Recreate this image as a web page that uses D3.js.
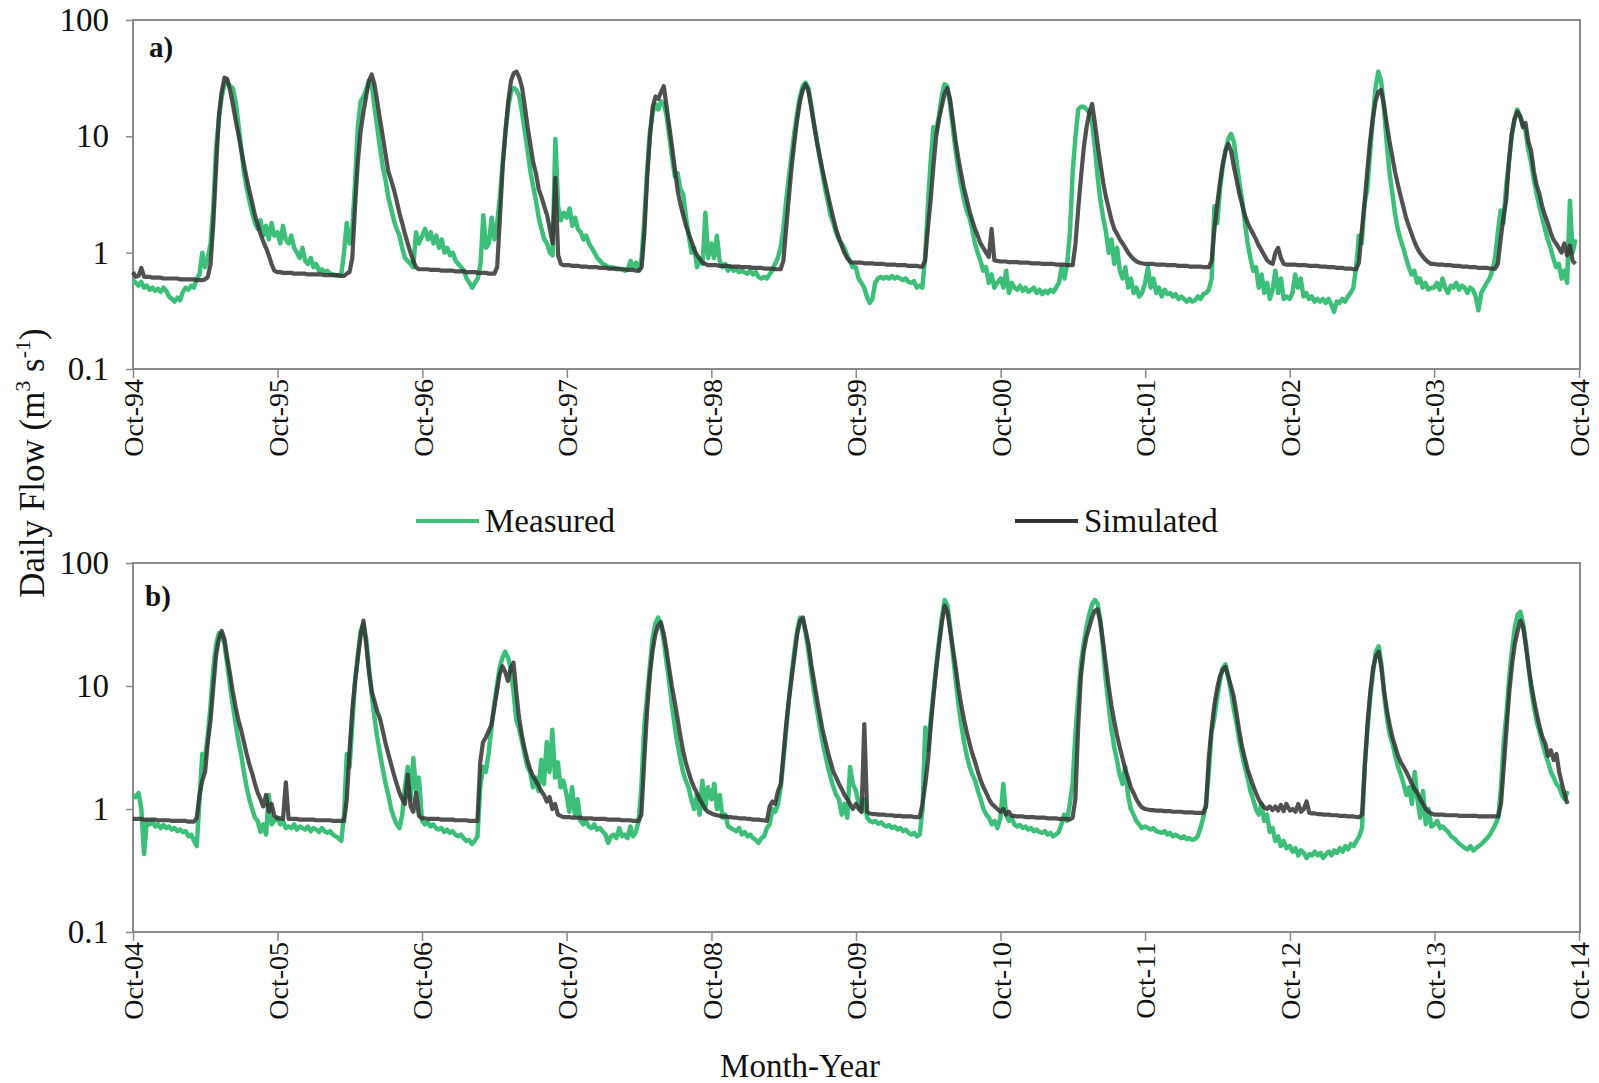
<!DOCTYPE html>
<html>
<head>
<meta charset="utf-8">
<script src="https://cdn.jsdelivr.net/npm/d3@7.9.0/dist/d3.min.js"></script>
<style>
  body { margin: 0; background: #fff; }
  svg { display: block; font-family: "Liberation Serif", "Times New Roman", serif; }
</style>
</head>
<body>
<svg id="chart" width="1599" height="1083"></svg>
<script>
// weekly values, one row per water year (row starts Oct-1, step 7 days)
const measuredA = [
  [0.58,0.55,0.52,0.56,0.5,0.52,0.48,0.5,0.47,0.49,0.46,0.5,0.47,0.42,0.4,0.38,0.41,0.39,0.46,0.5,0.48,0.52,0.5,0.6,0.65,1.0,0.75,
   0.9,1.2,2.5,8,14,22,28,30,27,26,20,13,8,5,3.6,2.8,2.2,1.8,1.6,1.9,1.4,1.7,1.3,1.8,1.4],
  [1.5,1.2,1.7,1.3,1.2,1.4,1.1,1.0,0.9,1.1,0.85,0.8,0.9,0.75,0.8,0.7,0.72,0.68,0.7,0.66,0.65,0.64,0.63,0.65,1.0,1.8,1.2,
   1.6,4,12,20,22,25,30,28,18,12,8,5.5,4.2,3.0,2.4,1.9,1.6,1.4,1.1,0.9,0.85,0.8,0.75,1.5,1.2],
  [1.4,1.6,1.3,1.5,1.2,1.4,1.1,1.3,1.0,1.1,0.95,1.0,0.85,0.8,0.75,0.7,0.6,0.55,0.5,0.55,0.6,0.8,2.1,1.1,1.2,2.0,1.3,
   1.8,3,6,11,18,24,26,25,22,16,11,7.5,5,3.7,2.8,2.0,1.6,1.3,1.2,1.0,0.95,9.5,2.5,1.9,2.2],
  [2.0,2.4,1.7,2.0,1.6,1.5,1.3,1.4,1.2,1.1,1.0,0.9,0.85,0.8,0.78,0.75,0.75,0.74,0.72,0.73,0.72,0.7,0.72,0.85,0.75,0.82,0.7,
   0.9,2,5,11,16,19,17,20,19,15,10,6.5,4.5,4.8,3.5,3.2,2.0,1.4,1.0,1.1,0.75,0.9,0.8,2.2,0.9],
  [1.2,0.9,1.4,0.85,0.75,0.8,0.7,0.75,0.7,0.72,0.68,0.7,0.68,0.66,0.7,0.65,0.68,0.62,0.6,0.62,0.6,0.65,0.7,0.8,0.9,1.1,
   1.6,2.8,4.5,7,11,16,22,27,29,26,19,13,9.5,6.8,5,3.6,2.8,2.1,1.8,1.5,1.3,1.2,1.1,0.95,0.85,0.75],
  [0.75,0.6,0.55,0.5,0.42,0.37,0.4,0.55,0.6,0.62,0.6,0.62,0.6,0.63,0.6,0.62,0.6,0.58,0.6,0.56,0.55,0.57,0.5,0.52,0.5,
   0.9,2.5,6,12,11,15,22,28,27,19,12,7.5,5.2,3.8,2.9,2.3,2.0,1.6,1.2,1.0,0.85,0.7,0.75,0.55,0.65,0.5,0.55],
  [0.6,0.5,0.7,0.45,0.55,0.5,0.48,0.52,0.47,0.5,0.46,0.48,0.5,0.45,0.48,0.44,0.47,0.45,0.48,0.46,0.5,0.55,0.75,0.6,0.8,1.5,
   5,10,17,18,18,17,16,13,8,4.5,2.8,2.0,1.5,1.0,1.3,0.8,1.1,0.7,0.6,0.75,0.5,0.6,0.45,0.5,0.42,0.45],
  [0.55,0.75,0.5,0.6,0.45,0.5,0.42,0.48,0.44,0.45,0.42,0.44,0.4,0.42,0.4,0.38,0.4,0.38,0.39,0.42,0.4,0.44,0.45,0.48,0.6,
   2.5,1.8,3.5,5.5,7.5,9.5,10.5,9,6,4,2.8,1.8,1.2,0.9,0.7,0.75,0.5,0.65,0.45,0.55,0.4,0.48,0.7,0.45,0.6,0.4,0.42],
  [0.4,0.45,0.65,0.5,0.6,0.42,0.45,0.4,0.42,0.38,0.4,0.38,0.4,0.37,0.4,0.36,0.31,0.38,0.37,0.4,0.38,0.42,0.45,0.5,0.75,
   1.4,1.2,2.6,3.5,7,14,26,36,30,18,9,5,3.3,2.2,1.6,1.3,1.1,0.9,0.75,0.65,0.7,0.55,0.6,0.5,0.55,0.48,0.5],
  [0.5,0.55,0.48,0.6,0.5,0.45,0.52,0.5,0.55,0.48,0.52,0.5,0.45,0.5,0.48,0.42,0.32,0.45,0.5,0.55,0.6,0.7,0.9,
   1.5,2.3,1.8,3.7,6,10,14,17,15,13,11,7.6,6,4.2,3.2,2.5,2.0,1.6,1.3,1.1,0.9,0.75,0.8,0.6,0.7,0.55,2.8,1.0,1.3]
];

const simulatedA = [
  [0.68,0.62,0.63,0.74,0.62,0.62,0.62,0.61,0.61,0.61,0.61,0.6,0.6,0.6,0.6,0.6,0.6,0.59,0.59,0.59,0.59,0.59,0.59,0.58,0.58,0.58,0.59,
   0.62,0.8,1.8,5.5,15,24,32,31,25,19,14,10.5,7.8,5.8,4.4,3.4,2.7,2.1,1.75,1.45,1.25,1.1,0.95,0.8,0.7],
  [0.68,0.68,0.67,0.67,0.67,0.67,0.66,0.66,0.66,0.66,0.66,0.65,0.65,0.65,0.65,0.65,0.65,0.64,0.64,0.64,0.64,0.64,0.64,0.63,0.63,0.66,0.68,
   0.9,2.5,6,11,16,22,30,34,28,20,14,10,7,5,4.2,3.5,2.8,2.2,1.8,1.45,1.2,1.0,0.85,0.75,0.72],
  [0.72,0.72,0.72,0.71,0.71,0.71,0.71,0.7,0.7,0.7,0.7,0.7,0.69,0.69,0.69,0.69,0.68,0.68,0.68,0.68,0.67,0.67,0.67,0.67,0.66,0.66,0.66,
   0.75,2,5.5,11,20,30,35,36,32,26,18,12,8.5,6,4.8,3.5,3.0,2.5,2.1,1.6,1.2,4.4,0.95,0.8,0.78],
  [0.78,0.78,0.77,0.77,0.77,0.76,0.76,0.76,0.75,0.75,0.75,0.75,0.74,0.74,0.74,0.73,0.73,0.73,0.73,0.72,0.72,0.72,0.71,0.71,0.71,0.7,0.7,
   0.75,1.5,4.5,10,18,22,21,24,27,18,12,8,5.2,3.4,2.6,2.1,1.7,1.45,1.25,1.05,0.95,0.88,0.82,0.8,0.78],
  [0.78,0.78,0.78,0.77,0.77,0.77,0.77,0.76,0.76,0.76,0.76,0.75,0.75,0.75,0.75,0.74,0.74,0.74,0.74,0.73,0.73,0.73,0.73,0.72,0.72,0.72,
   0.85,1.6,3.0,5.5,9,14,20,25,28,25,18,13,9.2,7,5.3,4.1,3.2,2.5,2.0,1.6,1.35,1.15,1.0,0.9,0.84,0.82],
  [0.82,0.82,0.82,0.81,0.81,0.81,0.81,0.8,0.8,0.8,0.8,0.79,0.79,0.79,0.79,0.78,0.78,0.78,0.78,0.77,0.77,0.77,0.77,0.76,0.76,
   0.85,1.6,2.8,5.5,10,14,18,23,26,21,14,9.2,6.5,4.8,3.6,2.9,2.3,1.9,1.6,1.4,1.2,1.1,1.0,0.92,1.6,0.86,0.85],
  [0.84,0.84,0.84,0.83,0.83,0.83,0.83,0.82,0.82,0.82,0.82,0.81,0.81,0.81,0.81,0.8,0.8,0.8,0.8,0.8,0.79,0.79,0.79,0.79,0.78,0.78,0.78,
   1.2,2.4,4.5,8,12,16,19,13,8.5,5.8,4.0,3.0,2.4,1.9,1.6,1.45,1.3,1.2,1.1,1.0,0.93,0.88,0.84,0.82,0.81],
  [0.8,0.8,0.8,0.8,0.79,0.79,0.79,0.79,0.78,0.78,0.78,0.78,0.77,0.77,0.77,0.77,0.76,0.76,0.76,0.76,0.76,0.75,0.75,0.75,
   0.85,1.6,2.6,4.0,5.8,7.5,8.6,7.5,5.5,4.2,3.2,2.6,2.1,1.8,1.6,1.45,1.3,1.15,1.05,0.95,0.86,0.82,0.8,1.0,1.1,0.9,0.8,0.79],
  [0.79,0.79,0.79,0.78,0.78,0.78,0.78,0.77,0.77,0.77,0.77,0.76,0.76,0.76,0.75,0.75,0.75,0.74,0.74,0.74,0.73,0.73,0.73,0.72,0.72,
   0.82,1.5,2.6,5,9,14,20,24,25,19,13,9.2,6.8,5.0,3.9,3.1,2.5,2.0,1.7,1.45,1.25,1.1,1.0,0.93,0.87,0.83,0.8],
  [0.8,0.79,0.79,0.79,0.78,0.78,0.78,0.77,0.77,0.77,0.76,0.76,0.76,0.75,0.75,0.75,0.74,0.74,0.74,0.74,0.73,0.73,0.73,
   0.8,1.3,2.0,2.8,6,10.5,14,16.3,15,12,13,9,7.5,5,3.8,3.2,2.5,2.1,1.8,1.5,1.3,1.2,1.1,1.0,1.2,0.95,1.15,0.85,0.8]
];

const measuredB = [
  [1.3,1.25,1.35,1.0,0.43,0.8,0.75,0.8,0.72,0.75,0.7,0.74,0.7,0.72,0.68,0.7,0.66,0.68,0.65,0.66,0.6,0.62,0.55,0.5,
   1.2,2.8,2.6,4,7,14,22,27,26,22,15,10,7,5,3.6,2.8,2.0,1.5,1.2,1.0,0.85,0.8,0.65,0.75,0.62,1.3,0.75,0.8],
  [0.85,0.75,0.8,0.7,0.72,0.7,0.75,0.68,0.72,0.7,0.68,0.72,0.66,0.7,0.68,0.65,0.7,0.66,0.64,0.66,0.62,0.6,0.58,0.55,0.9,
   2.8,2.2,5,11,18,28,32,24,14,8.5,5.5,3.8,2.8,2.1,1.6,1.3,1.0,0.85,0.75,0.7,0.9,1.5,2.2,1.2,2.6,1.4,1.8],
  [0.8,0.75,0.78,0.72,0.75,0.7,0.68,0.7,0.65,0.68,0.64,0.66,0.62,0.6,0.62,0.58,0.55,0.56,0.52,0.55,0.6,
   1.5,2.2,2.0,2.8,4.5,7,10,14,17,19,17,14,9,5.3,4.5,3.6,2.8,2.2,2.0,1.5,1.8,1.4,2.5,1.6,3.5,2.0,4.4,1.8,2.4,1.5,1.7],
  [1.3,0.95,1.5,0.9,1.2,0.8,0.75,0.8,0.72,0.7,0.75,0.68,0.7,0.66,0.62,0.53,0.6,0.62,0.58,0.7,0.6,0.62,0.58,0.72,0.6,0.65,0.8,
   1.5,4.6,8,14,24,32,36,32,24,16,11,7,4.8,3.4,2.6,2.0,1.7,1.5,1.2,1.0,1.3,0.9,1.7,1.0,1.5],
  [1.2,1.6,1.0,1.3,0.85,0.9,0.72,0.7,0.68,0.66,0.7,0.62,0.65,0.6,0.62,0.58,0.56,0.53,0.58,0.6,0.7,0.75,1.0,0.95,1.1,1.5,
   2.6,4.5,8,13,20,29,36,34,27,19,13,9,6.5,4.8,3.6,2.8,2.2,1.8,1.5,1.3,1.2,0.9,1.1,0.85,2.2,1.6],
  [1.4,1.1,0.95,1.2,0.85,0.8,0.78,0.8,0.76,0.78,0.74,0.72,0.74,0.7,0.72,0.68,0.7,0.66,0.68,0.64,0.62,0.64,0.6,0.62,
   1.0,4.6,3.0,5.5,9,15,24,36,50,45,30,18,11,7,4.8,3.5,2.7,2.2,1.9,1.7,1.4,1.2,1.0,0.9,0.85,0.75,0.8,0.7],
  [0.85,1.6,0.9,0.8,0.85,0.75,0.72,0.74,0.7,0.72,0.68,0.7,0.66,0.68,0.65,0.64,0.66,0.62,0.64,0.6,0.62,0.65,0.75,0.9,0.8,1.1,1.6,
   4,8,15,22,30,38,46,50,47,35,20,11,7,4.5,3.2,2.5,1.9,1.6,2.2,1.3,1.0,0.9,0.8,0.75,0.7],
  [0.72,0.7,0.68,0.7,0.66,0.65,0.64,0.66,0.62,0.64,0.6,0.62,0.6,0.58,0.6,0.57,0.58,0.56,0.57,0.6,0.7,0.85,
   1.1,2.0,4.2,5.5,8,11,14,15,12,9,6.5,5.0,3.6,2.8,2.2,1.8,1.4,1.2,1.0,0.9,1.1,0.8,0.9,0.65,0.7,0.55,0.6,0.5,0.55,0.48],
  [0.5,0.45,0.48,0.42,0.46,0.44,0.4,0.43,0.42,0.45,0.42,0.44,0.4,0.43,0.45,0.42,0.46,0.44,0.48,0.45,0.5,0.47,0.52,0.5,0.55,0.6,0.7,
   2.3,4.5,8.3,13,19,21,15,8.5,5.5,4,3.4,2.7,2.2,1.9,1.6,1.3,1.5,1.1,2.0,1.2,0.85,1.4,0.75,1.0,0.72],
  [0.75,0.8,0.7,0.72,0.68,0.65,0.6,0.58,0.55,0.52,0.5,0.48,0.47,0.5,0.46,0.48,0.5,0.52,0.55,0.58,0.62,0.68,0.75,0.85,
   1.5,3.5,6,12,20,30,38,40,32,22,14,9,6.5,5,4.2,3.4,2.8,2.4,2.0,1.8,1.6,1.5,1.3,1.2,1.4]
];

const simulatedB = [
  [0.83,0.83,0.83,0.83,0.82,0.82,0.82,0.82,0.82,0.81,0.81,0.81,0.81,0.81,0.8,0.8,0.8,0.8,0.8,0.8,0.79,0.79,0.79,
   0.85,1.3,1.7,2.0,3.5,5.3,10,18,24,28,24,17,12.5,9,6.8,5.3,4.4,3.5,2.8,2.3,1.95,1.6,1.35,1.2,1.05,1.3,0.95,1.1,0.88],
  [0.84,0.84,0.83,1.65,0.83,0.83,0.83,0.83,0.82,0.82,0.82,0.82,0.82,0.82,0.81,0.81,0.81,0.81,0.81,0.81,0.8,0.8,0.8,0.8,0.8,
   1.2,3,6.5,11,17,26,34,22,13,9,7.5,6.2,5.4,4.3,3.4,2.8,2.3,1.9,1.6,1.35,1.2,1.1,1.9,1.05,0.95,1.35,0.88],
  [0.84,0.84,0.83,0.83,0.83,0.83,0.83,0.82,0.82,0.82,0.82,0.82,0.81,0.81,0.81,0.81,0.81,0.8,0.8,0.8,0.8,
   2.4,3.5,3.8,4.3,4.8,6.5,9,12.5,14.5,13,11,14,15.5,9,5.5,4.0,3.1,2.5,2.1,1.85,1.7,1.55,1.4,1.3,1.15,1.25,1.0,1.1,0.9,0.88,0.86],
  [0.86,0.86,0.85,0.85,0.85,0.85,0.84,0.84,0.84,0.84,0.83,0.83,0.83,0.83,0.83,0.82,0.82,0.82,0.82,0.82,0.81,0.81,0.81,0.81,0.8,0.8,0.8,
   0.9,2.4,6,12,19,26,31,33,27,20,14,10,7.5,5.5,4.0,3.0,2.4,2.0,1.7,1.5,1.35,1.2,1.1,1.0,0.95],
  [0.92,0.9,0.89,0.88,0.87,0.87,0.86,0.86,0.85,0.85,0.84,0.84,0.84,0.83,0.83,0.82,0.82,0.82,0.81,0.81,0.8,
   1.05,1.15,1.1,1.4,1.6,2.8,5,8,12,18,27,34,36,28,22,15,11,8,6,4.5,3.6,2.9,2.4,2.0,1.8,1.6,1.45,1.3,1.2,1.1,1.0],
  [1.1,1.0,0.95,4.9,0.95,0.92,0.91,0.91,0.9,0.9,0.9,0.89,0.89,0.89,0.88,0.88,0.88,0.87,0.87,0.87,0.87,0.86,0.86,0.86,
   1.1,1.6,2.5,4.8,8.5,14,22,33,45,40,28,20,14,9.5,7,5.3,4.2,3.4,2.8,2.4,2.0,1.7,1.5,1.35,1.2,1.1,1.05,1.0],
  [0.95,1.0,0.9,0.95,0.88,0.88,0.87,0.87,0.87,0.86,0.86,0.86,0.86,0.85,0.85,0.85,0.85,0.84,0.84,0.84,0.84,0.83,0.83,0.83,0.83,0.82,0.85,
   1.2,4.5,12,19,25,30,36,41,42,33,23,15,10,7,5.2,4.0,3.2,2.6,2.1,1.8,1.5,1.35,1.2,1.1,1.03],
  [1.0,0.99,0.98,0.98,0.97,0.97,0.97,0.96,0.96,0.96,0.95,0.95,0.95,0.95,0.94,0.94,0.94,0.94,0.93,0.93,0.93,0.93,
   1.05,2.6,4.5,7,9.5,12,13.5,14.3,12,10,8.2,6,4.3,3.2,2.6,2.1,1.8,1.55,1.35,1.2,1.1,1.03,1.0,1.05,0.98,1.05,0.97,1.08,0.96,1.1],
  [0.97,1.0,0.95,1.1,0.95,1.0,1.15,0.93,0.92,0.92,0.91,0.91,0.9,0.9,0.9,0.89,0.89,0.89,0.88,0.88,0.88,0.87,0.87,0.87,0.86,0.86,
   0.9,2.2,5,9,14,17.5,19,14,9,6.3,4.8,3.8,3.2,2.7,2.4,2.2,2.0,1.8,1.6,1.45,1.35,1.2,1.1,1.0,0.95,0.92],
  [0.9,0.9,0.9,0.9,0.89,0.89,0.89,0.89,0.89,0.88,0.88,0.88,0.88,0.88,0.88,0.88,0.87,0.87,0.87,0.87,0.87,0.87,0.87,0.87,
   1.1,2.2,4.5,9,15,22,28,34,30,21,14,10,7.5,5.8,4.6,3.8,3.4,2.7,3.0,2.5,2.8,2.0,1.6,1.3,1.1]
];

const yTicks = [0.1, 1, 10, 100];
const monthNames = ['Jan','Feb','Mar','Apr','May','Jun','Jul','Aug','Sep','Oct','Nov','Dec'];

const panels = [
  { label: 'a)', start: 1994, measured: measuredA, simulated: simulatedA, top: 20, bottom: 369, labelX: 149, labelY: 57 },
  { label: 'b)', start: 2004, measured: measuredB, simulated: simulatedB, top: 563, bottom: 932, labelX: 145, labelY: 606 }
];

const left = 133, right = 1579;
const green = '#3dbf7a', dark = '#333333';
const svg = d3.select('#chart');

function toSeries(rows, startYear) {
  return rows.flatMap((row, yr) =>
    row.map((v, i) => ({ date: d3.timeDay.offset(new Date(startYear + yr, 9, 1), 7 * i), value: v })));
}

panels.forEach((p) => {
  let x = d3.scaleTime()
    .domain([new Date(p.start, 9, 1), new Date(p.start + 10, 9, 1)])
    .range([left, right]);
  let y = d3.scaleLog().domain([0.1, 100]).range([p.bottom, p.top]);

  let g = svg.append('g');

  // frame
  g.append('rect')
    .attr('x', left).attr('y', p.top)
    .attr('width', right + 1 - left).attr('height', p.bottom - p.top)
    .attr('fill', 'none').attr('stroke', '#8a8a8a').attr('stroke-width', 2);

  let line = d3.line().x((d) => x(d.date)).y((d) => y(d.value));

  g.append('path')
    .attr('d', line(toSeries(p.measured, p.start)))
    .attr('fill', 'none').attr('stroke', green).attr('stroke-width', 4.5)
    .attr('stroke-linejoin', 'round');

  g.append('path')
    .attr('d', line(toSeries(p.simulated, p.start)))
    .attr('fill', 'none').attr('stroke', dark).attr('stroke-width', 4.2)
    .attr('stroke-opacity', 0.85).attr('stroke-linejoin', 'round');

  // y axis
  let yAxis = d3.axisLeft(y).tickValues(yTicks).tickFormat(d3.format('')).tickSize(7).tickPadding(17);
  let ya = g.append('g').attr('transform', `translate(${left},0)`).call(yAxis);
  ya.select('.domain').remove();
  ya.selectAll('line').attr('stroke', '#8a8a8a').attr('stroke-width', 1.5);
  ya.selectAll('text')
    .attr('font-family', '"Liberation Serif", serif')
    .attr('font-size', 33).attr('fill', '#111');

  // x axis
  let xTicks = d3.range(11).map((k) => new Date(p.start + k, 9, 1));
  let xAxis = d3.axisBottom(x).tickValues(xTicks)
    .tickFormat((d) => `${monthNames[d.getMonth()]}-${String(d.getFullYear() % 100).padStart(2, '0')}`)
    .tickSize(9);
  let xa = g.append('g').attr('transform', `translate(0,${p.bottom})`).call(xAxis);
  xa.select('.domain').remove();
  xa.selectAll('line').attr('stroke', '#8a8a8a').attr('stroke-width', 1.5);
  xa.selectAll('text')
    .attr('font-family', '"Liberation Serif", serif')
    .attr('font-size', 28).attr('fill', '#111')
    .attr('text-anchor', 'end')
    .attr('transform', 'rotate(-90)')
    .attr('x', -10).attr('y', 0).attr('dy', '0.35em');

  g.append('text')
    .attr('x', p.labelX).attr('y', p.labelY)
    .attr('font-size', 29).attr('font-weight', 'bold').attr('fill', '#111')
    .text(p.label);
});

// legend
const legend = [
  { name: 'Measured', color: green, x: 416 },
  { name: 'Simulated', color: dark, x: 1015 }
];
legend.forEach((d) => {
  svg.append('line')
    .attr('x1', d.x).attr('x2', d.x + 63).attr('y1', 521).attr('y2', 521)
    .attr('stroke', d.color).attr('stroke-width', 4);
  svg.append('text')
    .attr('x', d.x + 69).attr('y', 532)
    .attr('font-size', 33).attr('fill', '#111')
    .text(d.name);
});

// axis titles
const yTitle = svg.append('text')
  .attr('transform', 'translate(44,463) rotate(-90)')
  .attr('text-anchor', 'middle')
  .attr('font-size', 35).attr('fill', '#111');
yTitle.append('tspan').text('Daily Flow (m');
yTitle.append('tspan').attr('font-size', 22).attr('dy', -14).text('3');
yTitle.append('tspan').attr('dy', 14).text(' s');
yTitle.append('tspan').attr('font-size', 22).attr('dy', -14).text('-1');
yTitle.append('tspan').attr('dy', 14).text(')');

svg.append('text')
  .attr('x', 800).attr('y', 1077)
  .attr('text-anchor', 'middle')
  .attr('font-size', 33).attr('fill', '#111')
  .text('Month-Year');
</script>
</body>
</html>
